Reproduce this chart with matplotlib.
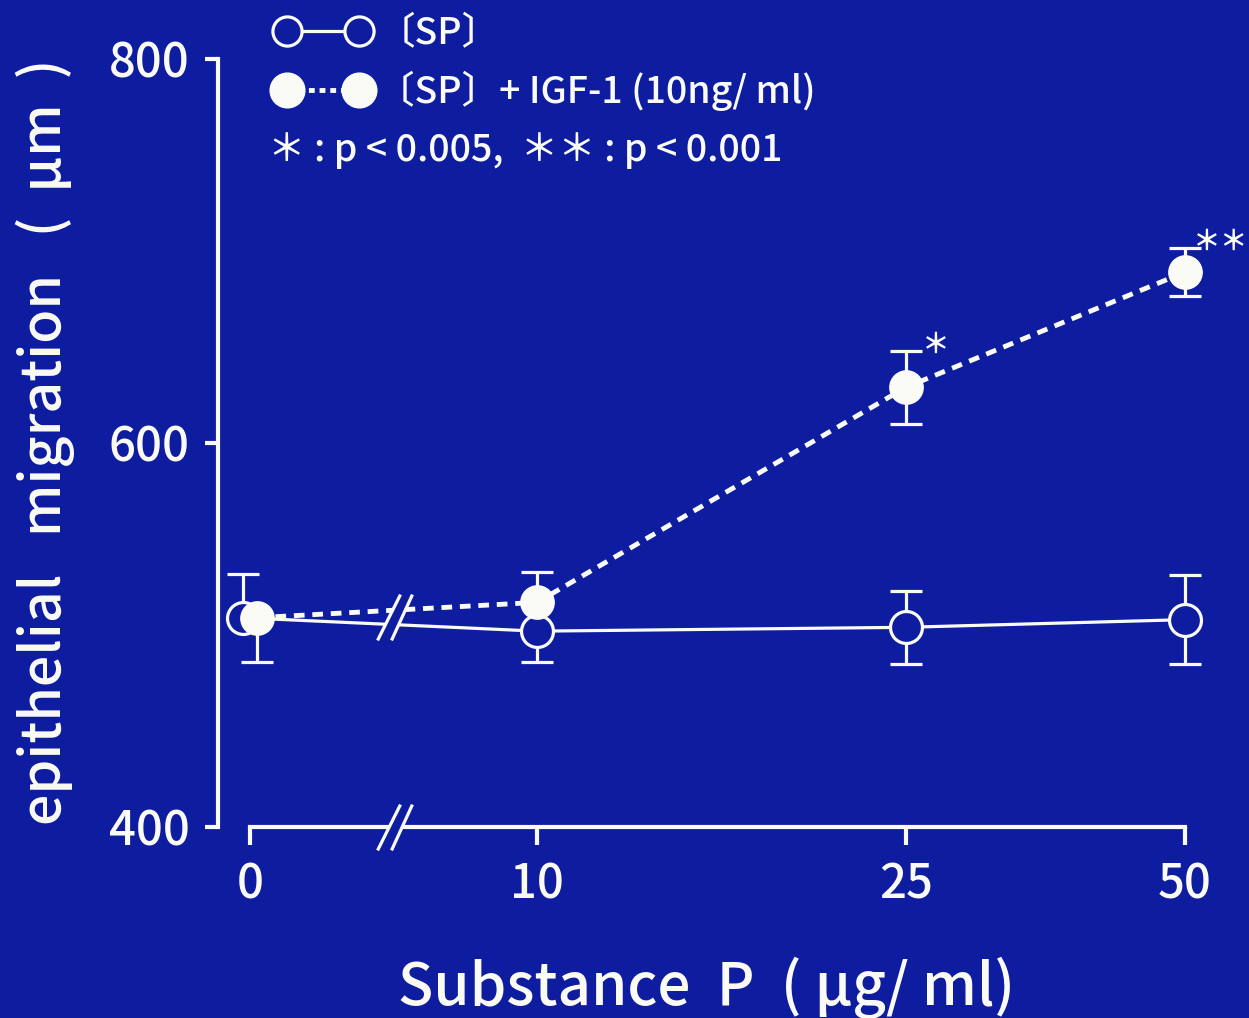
"""
Substance P 与 IGF-1 对上皮迁移的影响
"""

import numpy as np
import matplotlib.pyplot as plt
from matplotlib.lines import Line2D
from matplotlib.path import Path
from matplotlib.ticker import NullLocator

plt.rcParams['font.family'] = ['Noto Sans CJK JP', 'DejaVu Sans']
plt.rcParams['font.weight'] = 'medium'

# 数据
doses = [0, 10, 25, 50]
dose_labels = ['0', '10', '25', '50']
sp_mean = [509, 502, 504, 508]
sp_sem = [23, 16, 19, 23]
igf_mean = [509, 517, 629, 689]
igf_sem = [23, 16, 19, 12.5]
# 每个误差线画哪一侧 (下, 上)
sp_show = [(0, 1), (1, 0), (1, 1), (1, 1)]
igf_show = [(1, 0), (0, 1), (1, 1), (1, 1)]
signif = {25: '＊', 50: '＊＊'}
y_ticks = [400, 600, 800]

BG = '#0e1ca0'
FG = '#fbfbf5'

W, H = 1249, 1018
fig = plt.figure(figsize=(W / 100, H / 100), dpi=100, facecolor=BG)

# 横轴: 对数刻度, 0 放在断开处的左边
PX_DEC = 927.0
ZERO_POS = 10 ** (1 - 287 / PX_DEC)
BREAK_POS = 10 ** (1 - 143 / PX_DEC)
PX_UNIT = 1.92
ax_l, ax_r, ax_t, ax_b = 218, 1235, 15, 860
xlo = 10 ** (1 - (537 - ax_l) / PX_DEC)
xhi = 10 ** (np.log10(50) + (ax_r - 1185) / PX_DEC)
ylo = 400 - (ax_b - 827) / PX_UNIT
yhi = 800 + (59 - ax_t) / PX_UNIT

ax = fig.add_axes([ax_l / W, 1 - ax_b / H, (ax_r - ax_l) / W, (ax_b - ax_t) / H])
ax.set_facecolor('none')
ax.set_xscale('log')
ax.set_xlim(xlo, xhi)
ax.set_ylim(ylo, yhi)

pos = np.array([ZERO_POS if d == 0 else d for d in doses], dtype=float)
shift = 10 ** (7 / PX_DEC)
sp_x = pos.copy()
igf_x = pos.copy()
sp_x[0] /= shift
igf_x[0] *= shift


def err_bars(x, mean, sem, show):
    lo = [s * a for s, (a, b) in zip(sem, show)]
    hi = [s * b for s, (a, b) in zip(sem, show)]
    ax.errorbar(x, mean, yerr=[lo, hi], fmt='none', ecolor=FG, elinewidth=2.3,
                capsize=11.5, capthick=2.3, zorder=3)


err_bars(sp_x, sp_mean, sp_sem, sp_show)
err_bars(igf_x, igf_mean, igf_sem, igf_show)

ax.plot(sp_x, sp_mean, color=FG, lw=2.3, marker='o', ms=23, mfc=BG, mec=FG, mew=2.3, zorder=4)
ax.plot(igf_x, igf_mean, color=FG, lw=3.5, ls=(0, (2.2, 1.6)), zorder=4)
ax.plot(igf_x, igf_mean, ls='none', marker='o', ms=24, mfc=FG, mec=FG, zorder=5)

# 显著性标记
for d, m in signif.items():
    i = doses.index(d)
    dx = 16 if d == 25 else 8
    ax.annotate(m, xy=(igf_x[i], igf_mean[i] + igf_sem[i]), xytext=(dx, 6),
                textcoords='offset pixels', ha='left', va='center',
                fontsize=20, fontweight='bold', color=FG, zorder=6)

# 断轴符号
blank = Path([(-17, -23), (6, 23), (18, 23), (-3, -23), (-17, -23)],
             [Path.MOVETO, Path.LINETO, Path.LINETO, Path.LINETO, Path.CLOSEPOLY])
slashes = Path([(-17, -23), (6, 23), (-3, -23), (18, 23)],
               [Path.MOVETO, Path.LINETO, Path.MOVETO, Path.LINETO])
lx = np.log10([sp_x[0], 10])
y_sp = np.interp(np.log10(BREAK_POS), lx, sp_mean[:2])
y_igf = np.interp(np.log10(BREAK_POS), lx, igf_mean[:2])
for by in [(y_sp + y_igf) / 2, 400]:
    ax.plot([BREAK_POS], [by], marker=blank, ms=33, mfc=BG, mec='none', ls='none',
            zorder=7, clip_on=False)
    ax.plot([BREAK_POS], [by], marker=slashes, ms=33, mfc='none', mec=FG, mew=2.3,
            ls='none', zorder=8, clip_on=False)

# 坐标轴
for s in ['top', 'right']:
    ax.spines[s].set_visible(False)
ax.spines['left'].set_bounds(400, 800)
ax.spines['bottom'].set_position(('data', 400))
ax.spines['bottom'].set_bounds(ZERO_POS, 50)
for s in ['left', 'bottom']:
    ax.spines[s].set_color(FG)
    ax.spines[s].set_linewidth(3)
    ax.spines[s].set_zorder(2)

ax.xaxis.set_minor_locator(NullLocator())
ax.set_xticks(pos)
ax.set_xticklabels(dose_labels)
ax.set_yticks(y_ticks)
ax.tick_params(axis='x', direction='out', length=13, width=3, pad=11,
               labelsize=34, colors=FG)
ax.tick_params(axis='y', direction='out', length=9.5, width=3, pad=11,
               labelsize=34, colors=FG)

fig.text(45 / W, 1 - 442 / H, 'epithelial   migration   (  μm  )', rotation=90,
         ha='center', va='center', fontsize=40, color=FG)
fig.text(707 / W, 1 - 988 / H, 'Substance  P  ( μg/ ml)', ha='center', va='center',
         fontsize=42, color=FG)

# 图例
h1 = Line2D([], [], color=FG, lw=2.3, marker='o', ms=21, mfc=BG, mec=FG, mew=2.3)
h2 = Line2D([], [], color=FG, lw=3.5, ls=(0, (1.2, 1.0)), marker='o', ms=25, mfc=FG, mec=FG)
fig.legend([h1, h2], ['〔SP〕', '〔SP〕+ IGF-1 (10ng/ ml)'], loc='upper left',
           bbox_to_anchor=(276 / W, 1 - 14 / H), frameon=False, numpoints=2,
           handlelength=2.5, handletextpad=0.2, labelspacing=0.5,
           borderpad=0, borderaxespad=0, fontsize=27, labelcolor=FG)
fig.text(268 / W, 1 - 150 / H, '＊ : p < 0.005,  ＊＊ : p < 0.001', ha='left',
         va='center', fontsize=27, color=FG)

plt.savefig('out.png', dpi=100, facecolor=BG)
